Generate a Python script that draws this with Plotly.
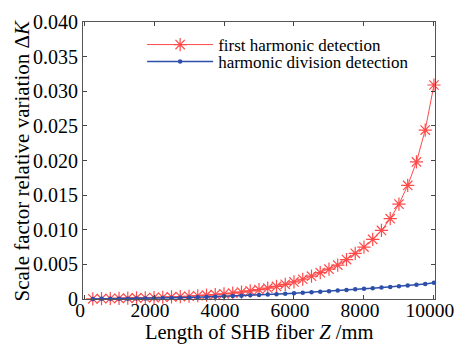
import plotly.graph_objects as go

length_mm = [250, 500, 750, 1000, 1250, 1500, 1750, 2000, 2250, 2500,
             2750, 3000, 3250, 3500, 3750, 4000, 4250, 4500, 4750, 5000,
             5250, 5500, 5750, 6000, 6250, 6500, 6750, 7000, 7250, 7500,
             7750, 8000, 8250, 8500, 8750, 9000, 9250, 9500, 9750, 10000]

first_harmonic = [0.00003, 0.00005, 0.00007, 0.00010, 0.00012, 0.00015, 0.00018, 0.00021, 0.00025, 0.00030,
                  0.00035, 0.00040, 0.00047, 0.00055, 0.00064, 0.00074, 0.00086, 0.00100, 0.00116, 0.00134,
                  0.00156, 0.00182, 0.00212, 0.00246, 0.00285, 0.00330, 0.00380, 0.00430, 0.00490, 0.00570,
                  0.00660, 0.00750, 0.00860, 0.00990, 0.01160, 0.01370, 0.01640, 0.01980, 0.02440, 0.03090]

harmonic_division = [0.00001, 0.00002, 0.00003, 0.00004, 0.00005, 0.00007, 0.00009, 0.00011, 0.00013, 0.00016,
                     0.00019, 0.00022, 0.00026, 0.00030, 0.00034, 0.00039, 0.00043, 0.00048, 0.00053, 0.00058,
                     0.00064, 0.00070, 0.00076, 0.00082, 0.00089, 0.00096, 0.00104, 0.00112, 0.00121, 0.00130,
                     0.00139, 0.00148, 0.00157, 0.00166, 0.00175, 0.00184, 0.00194, 0.00204, 0.00218, 0.00236]

y_ticks = [0, 0.005, 0.010, 0.015, 0.020, 0.025, 0.030, 0.035, 0.040]
y_tick_labels = ["0", "0.005", "0.010", "0.015", "0.020", "0.025", "0.030", "0.035", "0.040"]
x_ticks = [0, 2000, 4000, 6000, 8000, 10000]
x_tick_labels = ["0", "2000", "4000", "6000", "8000", "10000"]
x_title = "Length of SHB fiber <i>Z</i> /mm"
y_title = "Scale factor relative variation Δ<i>K</i>"

FONT = "Times New Roman, Liberation Serif, DejaVu Serif, serif"

fig = go.Figure()
fig.add_trace(go.Scatter(
    x=length_mm, y=first_harmonic, mode="lines+markers",
    name="first harmonic detection", legend="legend",
    line=dict(color="#ff4a4a", width=1),
    marker=dict(symbol="asterisk-open", size=11, color="#ff4a4a", line=dict(width=1.2, color="#ff4a4a")),
    cliponaxis=False,
))
fig.add_trace(go.Scatter(
    x=length_mm, y=harmonic_division, mode="lines+markers",
    name="harmonic division detection", legend="legend2",
    line=dict(color="#2d4faa", width=1.5),
    marker=dict(symbol="circle", size=4.5, color="#2d4faa"),
    cliponaxis=False,
))

legend_common = dict(xanchor="left", yanchor="middle", bgcolor="rgba(0,0,0,0)",
                     font=dict(family=FONT, size=17, color="black"), itemwidth=66,
                     borderwidth=0)

fig.update_layout(
    width=456, height=345,
    margin=dict(l=83, r=21, t=22, b=46, autoexpand=False),
    paper_bgcolor="white", plot_bgcolor="white",
    font=dict(family=FONT, size=20, color="black"),
    showlegend=True,
    legend=dict(x=0.168, y=(299 - 45) / 277, **legend_common),
    legend2=dict(x=0.168, y=(299 - 62) / 277, **legend_common),
    annotations=[
        dict(text=x_title, xref="paper", yref="paper", x=0.5, y=-45.5 / 277,
             xanchor="center", yanchor="bottom", showarrow=False, borderpad=0,
             font=dict(family=FONT, size=20.5, color="black")),
        dict(text=y_title, xref="paper", yref="paper", x=-62 / 352, y=0.5,
             xanchor="center", yanchor="middle", showarrow=False, textangle=-90,
             font=dict(family=FONT, size=21, color="black")),
    ],
)
fig.update_xaxes(
    range=[-30, 10030], tickvals=x_ticks, ticktext=x_tick_labels, ticks="inside", ticklen=4,
    showline=True, linecolor="#555", linewidth=1, mirror="ticks",
    showgrid=False, zeroline=False, automargin=False, ticklabeloverflow="allow",
    ticklabelshift=-4, ticklabelstandoff=-6,
    tickfont=dict(family=FONT, size=19.5),
)
fig.update_yaxes(
    range=[0, 0.040], tickvals=y_ticks, ticktext=y_tick_labels, ticks="inside", ticklen=4,
    showline=True, linecolor="#555", linewidth=1, mirror="ticks",
    showgrid=False, zeroline=False, automargin=False, ticklabeloverflow="allow",
    tickfont=dict(family=FONT, size=20),
)

fig.write_html("out.html")
